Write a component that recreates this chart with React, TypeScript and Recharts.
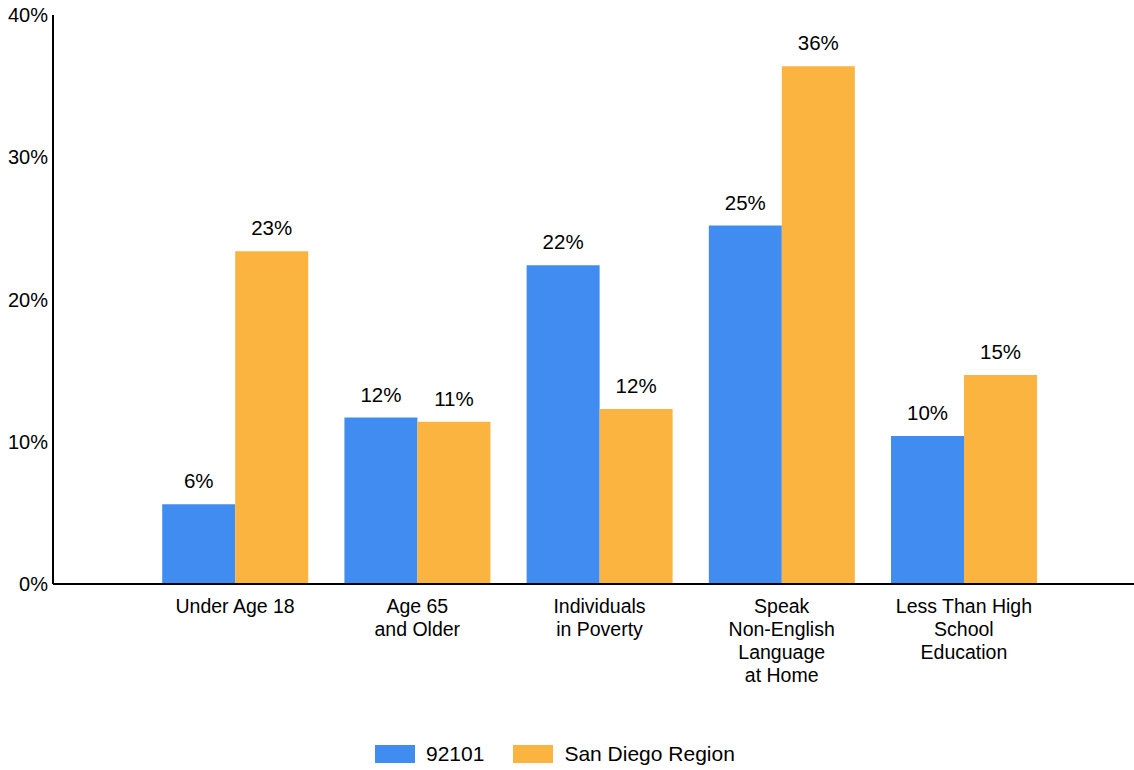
import React from "react";
import { BarChart, Bar, XAxis, YAxis, LabelList } from "recharts";

const categories = [
  "Under Age 18",
  "Age 65\nand Older",
  "Individuals\nin Poverty",
  "Speak\nNon-English\nLanguage\nat Home",
  "Less Than High\nSchool\nEducation",
];
const zip92101 = [5.6, 11.7, 22.4, 25.2, 10.4];
const sanDiego = [23.4, 11.4, 12.3, 36.4, 14.7];
const yTicks = [0, 10, 20, 30, 40];
const seriesNames = ["92101", "San Diego Region"];
const colors = ["#418CF0", "#FCB441"];

const data = categories.map((c, i) => ({ name: c, a: zip92101[i], b: sanDiego[i] }));

const FONT = '"Liberation Sans", Arial, sans-serif';

const CatTick = (props: any) => {
  const { x, y, payload } = props;
  const lines = String(payload.value).split("\n");
  return (
    <text x={x} y={y} textAnchor="middle" fontFamily={FONT} fontSize={19.5} fill="#000">
      {lines.map((l, i) => (
        <tspan key={i} x={x} dy={i === 0 ? 14 : 23}>
          {l}
        </tspan>
      ))}
    </text>
  );
};

const LegendBox = () => (
  <div
    style={{
      position: "absolute",
      left: 375,
      top: 742,
      display: "flex",
      alignItems: "center",
      fontFamily: FONT,
      fontSize: 21,
      color: "#000",
      lineHeight: "24px",
    }}
  >
    {seriesNames.map((n, i) => (
      <div key={n} style={{ display: "flex", alignItems: "center", marginRight: i === 0 ? 29 : 0 }}>
        <div style={{ width: 40, height: 18, background: colors[i], marginRight: 11 }} />
        <span>{n}</span>
      </div>
    ))}
  </div>
);

export default function App() {
  return (
    <div style={{ position: "absolute", left: 0, top: 0, width: 1134, height: 770, background: "#fff" }}>
      <BarChart
        width={1134}
        height={770}
        data={data}
        margin={{ top: 15, right: 0, left: 0, bottom: 56 }}
        barCategoryGap="10%"
        barGap={0}
      >
        <XAxis
          dataKey="name"
          interval={0}
          height={130}
          padding={{ left: 91, right: 79 }}
          tickLine={false}
          tickSize={0}
          tickMargin={15}
          axisLine={{ stroke: "#000", strokeWidth: 2 }}
          tick={<CatTick />}
        />
        <YAxis
          width={53}
          domain={[0, 40]}
          ticks={yTicks}
          interval={0}
          tickLine={false}
          tickSize={0}
          tickMargin={5}
          axisLine={{ stroke: "#000", strokeWidth: 2 }}
          tickFormatter={(v: number) => `${v}%`}
          tick={{ fontFamily: FONT, fontSize: 20, fill: "#000" }}
        />
        <Bar dataKey="a" name={seriesNames[0]} fill={colors[0]} isAnimationActive={false}>
          <LabelList
            dataKey="a"
            position="top"
            offset={16}
            formatter={(v: number) => `${Math.round(v)}%`}
            style={{ fontFamily: FONT, fontSize: 20.5, fill: "#000" }}
          />
        </Bar>
        <Bar dataKey="b" name={seriesNames[1]} fill={colors[1]} isAnimationActive={false}>
          <LabelList
            dataKey="b"
            position="top"
            offset={16}
            formatter={(v: number) => `${Math.round(v)}%`}
            style={{ fontFamily: FONT, fontSize: 20.5, fill: "#000" }}
          />
        </Bar>
      </BarChart>
      <LegendBox />
    </div>
  );
}
